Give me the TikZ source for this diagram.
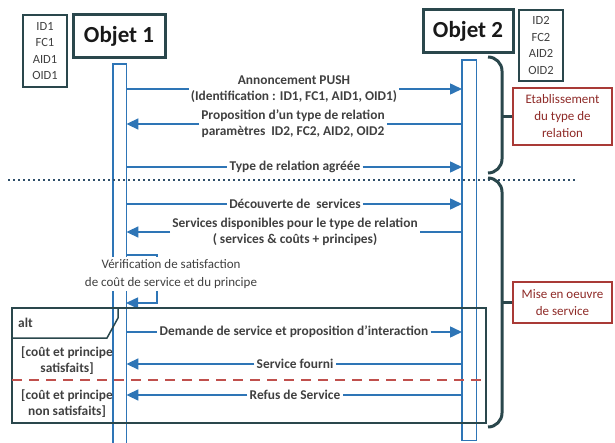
\documentclass[tikz,border=0pt]{standalone}
\usepackage{fontspec}
\setmainfont{Carlito}
\usepackage{tikz}
\usetikzlibrary{arrows.meta,positioning}
\usepackage{xcolor}
\definecolor{msgblue}{HTML}{2E75B6}
\definecolor{slate}{HTML}{2A474C}
\definecolor{txtgray}{HTML}{404040}
\definecolor{boxred}{HTML}{A93A36}
\definecolor{redtext}{HTML}{8E2A27}
\definecolor{dashred}{HTML}{C0504D}
\definecolor{dotblue}{HTML}{2F4F6A}

\begin{document}
\begin{tikzpicture}[x=1pt, y=-1pt,
    objbox/.style={draw=slate, line width=3pt, text=black!90, font=\fontsize{23}{26}\selectfont\bfseries},
    idbox/.style={draw=slate, line width=1.5pt, text=txtgray, align=center, font=\fontsize{12.5}{16.5}\selectfont},
    redbox/.style={draw=boxred, line width=1.5pt, text=redtext, align=center, font=\fontsize{13}{17}\selectfont},
    bar/.style={draw=none, inner sep=0pt},
    msg/.style={text=txtgray, align=center, inner sep=2pt, font=\fontsize{13.4}{16}\selectfont\bfseries},
    msgline/.style={draw=msgblue, line width=1.5pt},
    msgarrow/.style={msgline, -{Triangle[length=12pt,width=11pt]}},
    brace/.style={draw=slate, line width=3pt, rounded corners=14pt}]

    \useasboundingbox (0,0) rectangle (615,443);

    % Objects and their parameters
    \node[objbox, minimum width=92, minimum height=43] (obj1) at (119,36.5) {Objet 1};
    \node[objbox, minimum width=90, minimum height=43] (obj2) at (468,31.5) {Objet 2};
    \node[idbox, minimum width=44, minimum height=72] (id1) at (45,51) {ID1\\FC1\\AID1\\OID1};
    \node[idbox, minimum width=44, minimum height=71] (id2) at (541,45.5) {ID2\\FC2\\AID2\\OID2};

    % Activation bars
    \node[bar, minimum width=13, minimum height=379, anchor=north west] (bar1) at (113,64) {};
    \node[bar, minimum width=14, minimum height=380, anchor=north west] (bar2) at (462,60) {};
    \draw[msgline] (bar1.south west) |- (bar1.north east) -- (bar1.south east);
    \draw[msgline] (bar2.north west) rectangle (bar2.south east);

    % Phase separator
    \draw[dotblue, line width=1.8pt, dash pattern=on 2pt off 3pt] (8,180) -- (577,180);

    % Braces and phases
    \node[redbox, minimum width=99, minimum height=57] (etab) at (562.5,116.5) {Etablissement\\du type de\\relation};
    \node[redbox, minimum width=99, minimum height=41] (mise) at (562.5,302.5) {Mise en oeuvre\\de service};
    \draw[brace] (488,57) -| (502,117) |- (488,173);
    \draw[brace] (488,178) -| (502,303) |- (488,427);
    \draw[draw=slate, line width=3pt] (etab.west) -- ++(-11,0);
    \draw[draw=slate, line width=3pt] (mise.west) -- ++(-11,0);

    % Messages
    \node[msg] (ann) at (294,89) {Annoncement PUSH\\(Identification : ID1, FC1, AID1, OID1)};
    \draw[msgline] (ann.west -| bar1.east) -- (ann.west);
    \draw[msgarrow] (ann.east) -- (ann.east -| bar2.west);

    \node[msg] (prop) at (293,124) {Proposition d'un type de relation\\paramètres\ \ ID2, FC2, AID2, OID2};
    \draw[msgarrow] (prop.west) -- (prop.west -| bar1.east);
    \draw[msgline] (prop.east -| bar2.west) -- (prop.east);

    \node[msg] (agree) at (295,167) {Type de relation agréée};
    \draw[msgline] (agree.west -| bar1.east) -- (agree.west);
    \draw[msgarrow] (agree.east) -- (agree.east -| bar2.west);

    \node[msg] (decouv) at (295,204) {Découverte de\ \ services};
    \draw[msgline] (decouv.west -| bar1.east) -- (decouv.west);
    \draw[msgarrow] (decouv.east) -- (decouv.east -| bar2.west);

    \node[msg] (dispo) at (295,232) {Services disponibles pour le type de relation\\( services \& coûts + principes)};
    \draw[msgarrow] (dispo.west) -- (dispo.west -| bar1.east);
    \draw[msgline] (dispo.east -| bar2.west) -- (dispo.east);

    % Self check
    \coordinate (s1) at (126,255);
    \coordinate (s2) at (126,303);
    \draw[msgarrow] (s1) -| ++(31,48) -- (s2);
    \node[msg, fill=white, font=\fontsize{13}{18}\selectfont] (verif) at (171,274) {Vérification de satisfaction\\de coût de service et du principe};

    % Alternative fragment
    \draw[draw=slate, line width=1.5pt] (12,308) rectangle (486,423);
    \draw[draw=slate, line width=1.5pt] (12,338) -- (107,338) -- (118,318) -- (118,308);
    \node[msg, anchor=west] (alt) at (16,323) {alt};
    \draw[dashred, line width=2pt, dash pattern=on 10pt off 7pt] (12,380) -- (486,380);
    \node[msg] (g1) at (67,361) {[coût et principe\\satisfaits]};
    \node[msg] (g2) at (67,404) {[coût et principe\\non satisfaits]};

    \node[msg] (demande) at (294,332) {Demande de service et proposition d'interaction};
    \draw[msgline] (demande.west -| bar1.east) -- (demande.west);
    \draw[msgarrow] (demande.east) -- (demande.east -| bar2.west);

    \node[msg] (fourni) at (295,364) {Service fourni};
    \draw[msgarrow] (fourni.west) -- (fourni.west -| bar1.east);
    \draw[msgline] (fourni.east -| bar2.west) -- (fourni.east);

    \node[msg] (refus) at (295,395) {Refus de Service};
    \draw[msgarrow] (refus.west) -- (refus.west -| bar1.east);
    \draw[msgline] (refus.east -| bar2.west) -- (refus.east);

\end{tikzpicture}
\end{document}
